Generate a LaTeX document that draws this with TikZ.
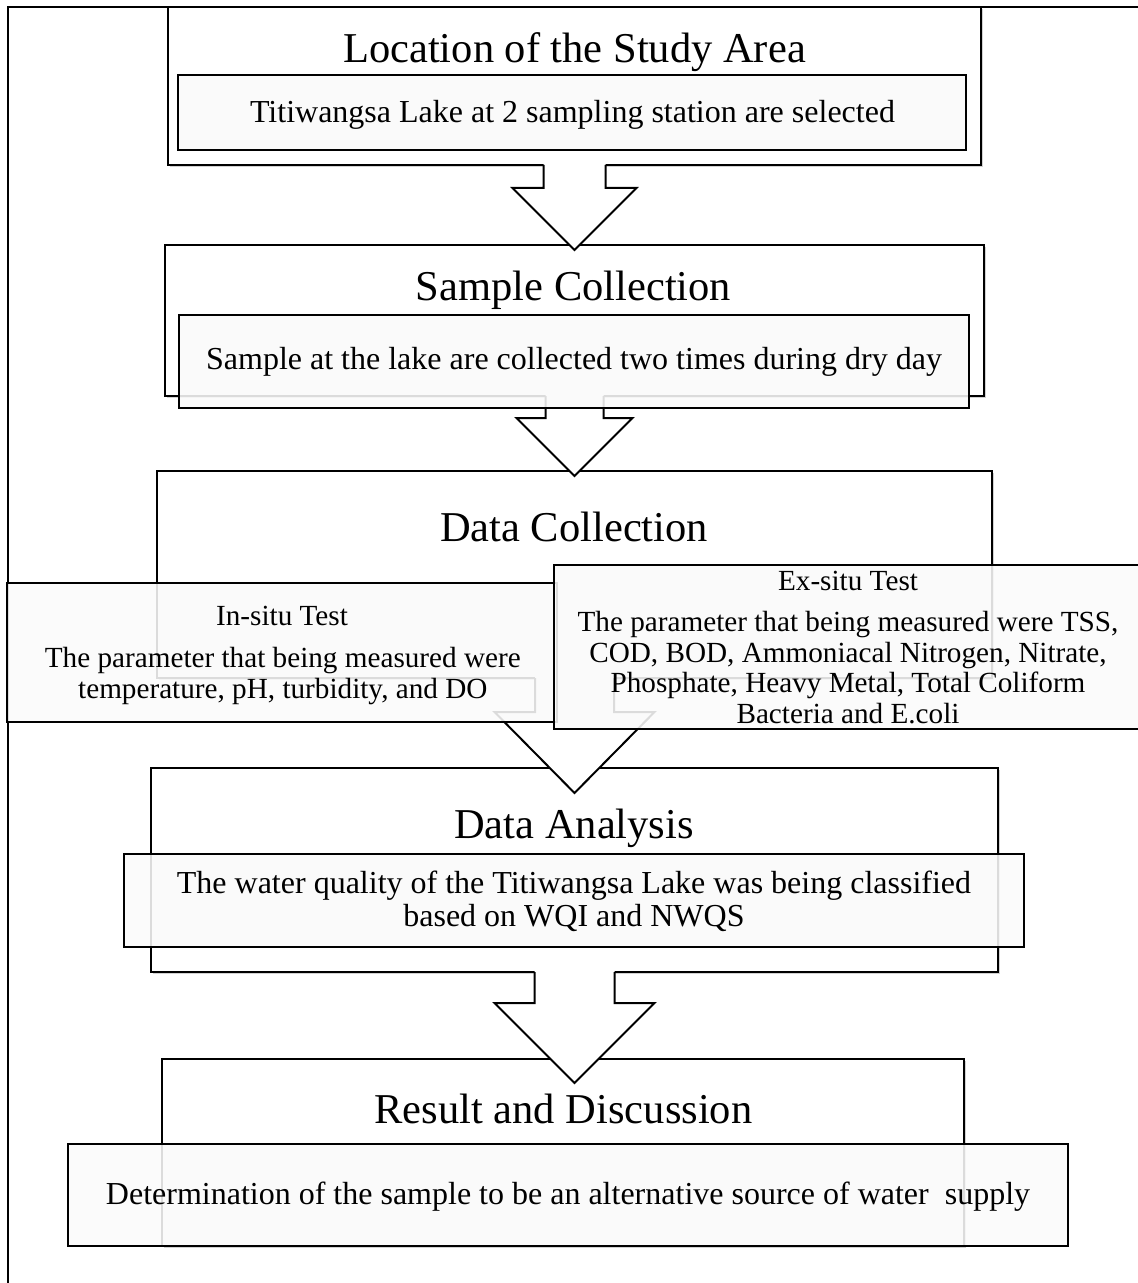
\documentclass[tikz,border=0pt]{standalone}
\usepackage{fontspec}
\setmainfont{Liberation Serif}
\usetikzlibrary{shadows}
\newcommand{\satitle}{\fontsize{21.25}{24}\selectfont}
\newcommand{\sabody}{\fontsize{16}{16.5}\selectfont}
\newcommand{\satest}{\fontsize{14.6}{15.25}\selectfont}
\definecolor{safill}{RGB}{250,250,250}
\tikzset{
  boxline/.style={draw=black, line width=1pt},
  outerbox/.style 2 args={boxline, fill=white, inner sep=0pt, outer sep=0pt, minimum width=#1, minimum height=#2,
    drop shadow={shadow xshift=1pt, shadow yshift=-1pt, fill=black, opacity=.18}},
  innerbox/.style 2 args={boxline, fill=safill, fill opacity=.88, inner sep=0pt, outer sep=0pt, minimum width=#1, minimum height=#2},
  satext/.style={anchor=base, align=center, inner sep=0pt},
  pics/dnarrow/.style args={#1/#2/#3/#4}{code={
    \fill[white] (-#1,-1.5) -- (-#1,#3) -- (-#2,#3) -- (0,#4) -- (#2,#3) -- (#1,#3) -- (#1,-1.5) -- cycle;
    \draw[boxline, line join=miter] (-#1,0) -- (-#1,#3) -- (-#2,#3) -- (0,#4) -- (#2,#3) -- (#1,#3) -- (#1,0);
  }}
}

\begin{document}
\begin{tikzpicture}[x=0.5pt, y=-0.5pt]
  \useasboundingbox (0,0) rectangle (1138,1283);
  \clip (0,0) rectangle (1138,1283);
  % frame
  \draw[boxline] (8,1300) -- (8,7) -- (1150,7);
  % outer boxes
  \node[outerbox={406.5pt}{79pt}] (loc) at (574.5,86) {};
  \node[outerbox={409.5pt}{75.5pt}] (samp) at (574.5,320.5) {};
  \node[outerbox={417.5pt}{103.5pt}] (data) at (574.5,574.5) {};
  \node[outerbox={423.5pt}{102pt}] (ana) at (574.5,870) {};
  \node[outerbox={401pt}{93.5pt}] (res) at (563,1152.5) {};
  % block arrows
  \pic at (loc.south) {dnarrow=31/62/23/85};
  \pic at (samp.south) {dnarrow=29/58/22/80};
  \pic at (data.south) {dnarrow=39.5/80/34/115};
  \pic at (ana.south) {dnarrow=40/80/31/111};
  % inner boxes
  \node[innerbox={394pt}{37.5pt}] (loci) at (572,112.5) {};
  \node[innerbox={395pt}{46.5pt}] (sampi) at (574,361.5) {};
  \node[innerbox={275pt}{69.5pt}] (insitu) at (282,652.5) {};
  \node[innerbox={302pt}{82pt}] (exsitu) at (856,647) {};
  \node[innerbox={450pt}{46.5pt}] (anai) at (574,900.5) {};
  \node[innerbox={500pt}{51pt}] (resi) at (568,1195) {};
  % texts
  \node[satext, font=\satitle] (loct) at (574.5,63) {Location of the Study Area};
  \node[satext, font=\sabody] (locb) at (572.5,123) {Titiwangsa Lake at 2 sampling station are selected};
  \node[satext, font=\satitle] (sampt) at (573.5,300) {Sample Collection};
  \node[satext, font=\sabody] (sampb) at (574,369) {Sample at the lake are collected two times during dry day};
  \node[satext, font=\satitle] (datat) at (574,541) {Data Collection};
  \node[satext, font=\satest] (insitut) at (282,625) {In-situ Test};
  \node[satext, font=\satest] (insitub) at (282.8,698) {The parameter that being measured were\\temperature, pH, turbidity, and DO};
  \node[satext, font=\satest] (exsitut) at (848,590) {Ex-situ Test};
  \node[satext, font=\satest] (exsitub) at (848,723) {The parameter that being measured were TSS,\\COD, BOD, Ammoniacal Nitrogen, Nitrate,\\Phosphate, Heavy Metal, Total Coliform\\Bacteria and E.coli};
  \node[satext, font=\satitle] (anat) at (574,838) {Data Analysis};
  \node[satext, font=\sabody] (anab) at (574,926) {The water quality of the Titiwangsa Lake was being classified\\based on WQI and NWQS};
  \node[satext, font=\satitle] (rest) at (563.5,1123) {Result and Discussion};
  \node[satext, font=\sabody] (resb) at (568,1204) {Determination of the sample to be an alternative source of water~ supply};
\end{tikzpicture}
\end{document}
